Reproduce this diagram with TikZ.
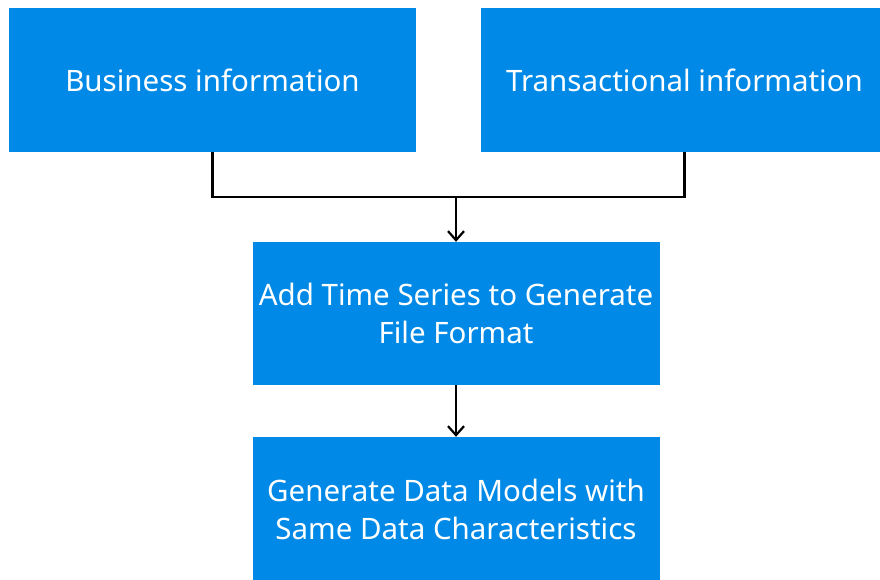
\documentclass[tikz,border=0pt]{standalone}
\usepackage{fontspec}
\setmainfont{Noto Sans}
\usetikzlibrary{arrows.meta}
\definecolor{boxblue}{RGB}{0,137,230}
\tikzset{
  infobox/.style={fill=boxblue, text=white, minimum width=407pt, minimum height=144pt,
    inner sep=0pt, align=center, font=\fontsize{29.5}{38}\selectfont},
  link/.style={line width=2.2pt, black},
  arrowlink/.style={link, -{Straight Barb[length=9pt,width=16pt,line width=2.2pt]}}
}
\begin{document}
\begin{tikzpicture}[x=1pt,y=-1pt]
  \useasboundingbox (0,0) rectangle (880,579);
  \begin{scope}
    \clip (0,0) rectangle (880,579);
    \node[infobox] (b1) at (212.5,80) {Business information};
    \node[infobox] (b2) at (684.5,80) {Transactional information};
    \node[infobox, minimum height=143pt] (b3) at (456,313.5) {Add Time Series to Generate\\File Format};
    \node[infobox] (b4) at (456,509) {Generate Data Models with\\Same Data Characteristics};
  \end{scope}
  \coordinate (j) at (456,197);
  \draw[link] (b1.south) |- (j);
  \draw[link] (b2.south) |- (j);
  \draw[arrowlink] (j) -- (b3.north);
  \draw[arrowlink] (b3.south) -- (b4.north);
\end{tikzpicture}
\end{document}
